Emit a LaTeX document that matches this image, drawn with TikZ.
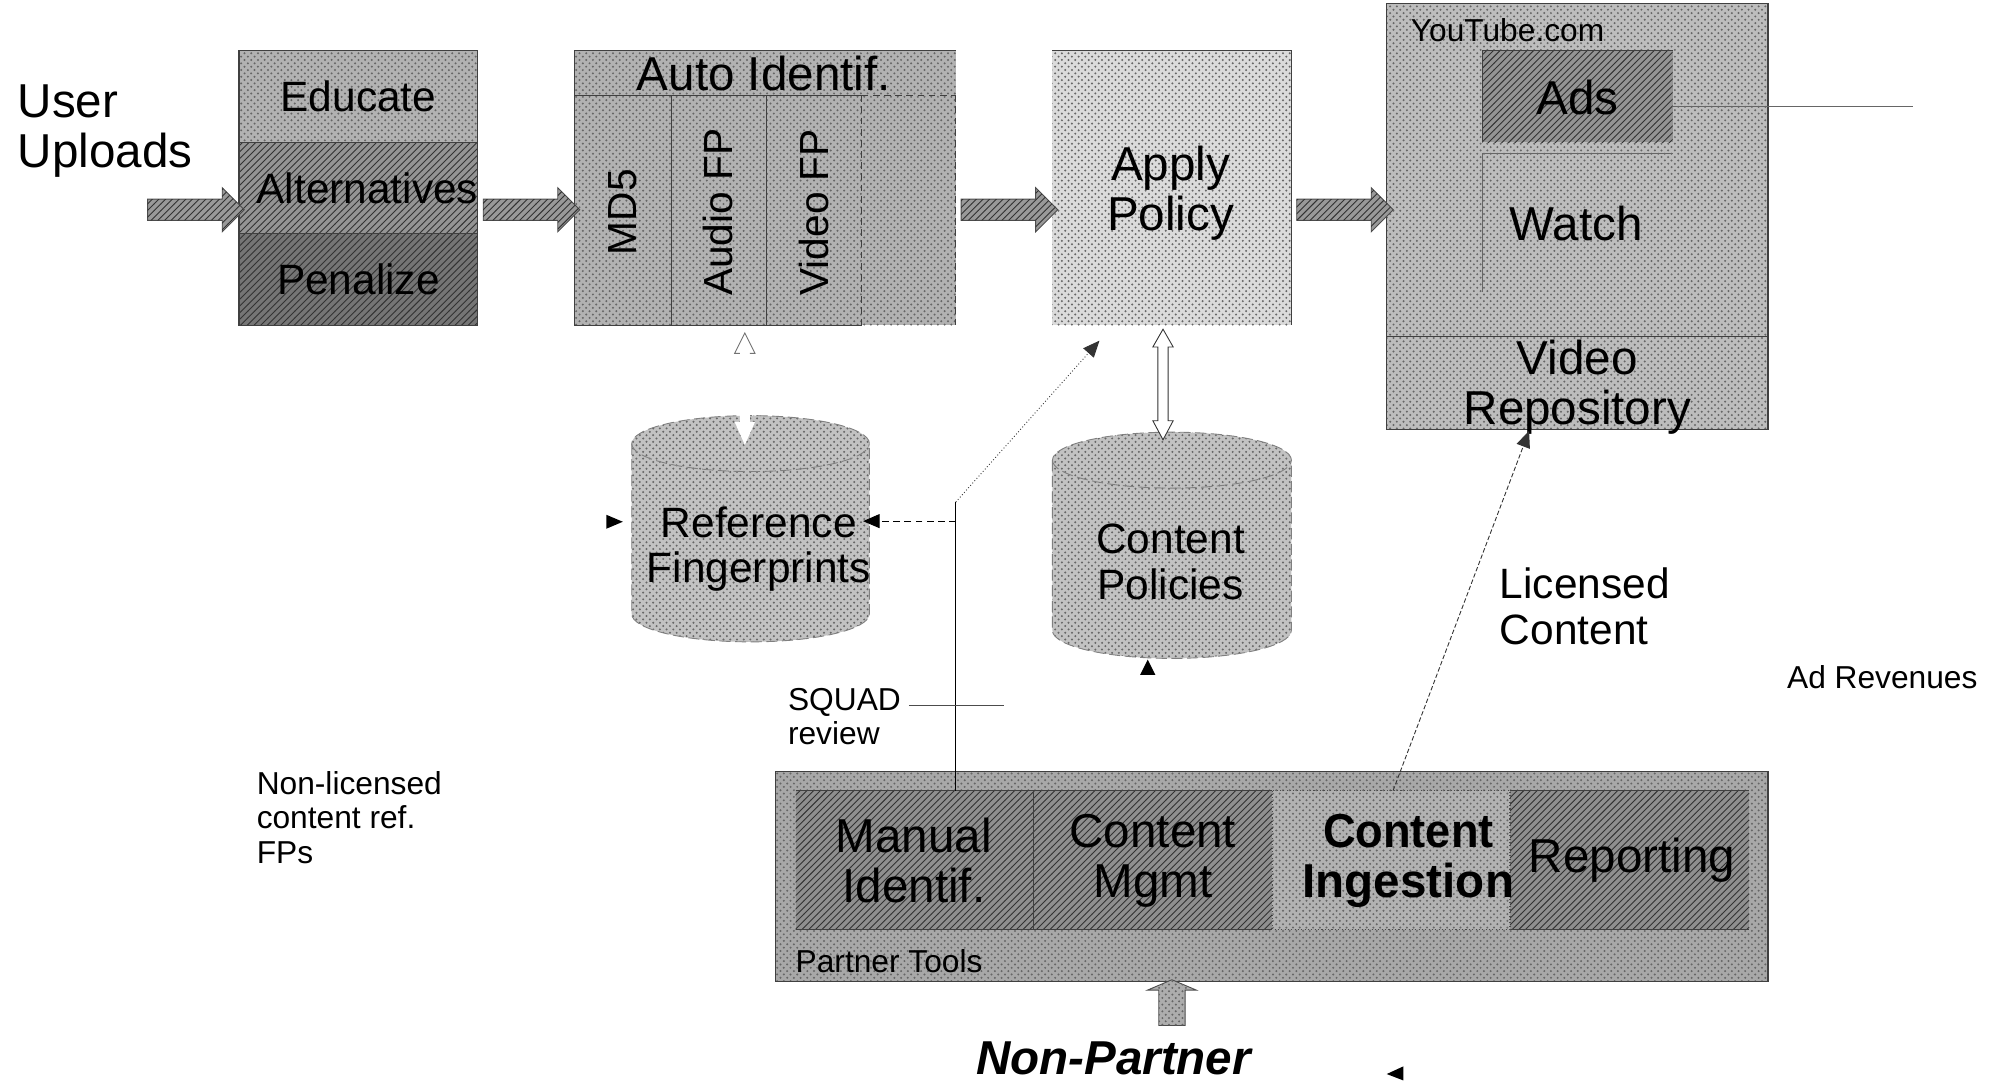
\documentclass[tikz,border=0pt]{standalone}
\usepackage{fontspec}
\setmainfont{Liberation Sans}
\usetikzlibrary{shapes.arrows,patterns,arrows.meta}
\begin{document}
\begin{tikzpicture}[x=0.02cm,y=-0.02cm,
  every node/.style={inner sep=0pt, outer sep=0pt},
  fbig/.style={font=\fontsize{21.3}{22.4}\selectfont},
  fmid/.style={font=\fontsize{19}{20.4}\selectfont},
  fsmall/.style={font=\fontsize{14.2}{15.4}\selectfont},
  fvert/.style={font=\fontsize{18.2}{19}\selectfont, rotate=90},
  area/.style={rectangle, draw=none},
  dotfill/.style={fill=#1, postaction={pattern=crosshatch dots, pattern color=black!60}},
  hatchfill/.style={fill=#1, postaction={pattern=north east lines, pattern color=black!80}},
  edge/.style={draw=black!75, line width=0.5pt},
  fatarrow/.style={single arrow, draw=black!70, line width=0.4pt, hatchfill=black!40,
     minimum height=1.52cm, single arrow head extend=0.18cm, single arrow tip angle=90},
  conn/.style={draw=black, line width=0.4pt},
  cyl/.style={draw=black!50, dash pattern=on 5pt off 2pt, line width=0.4pt},
  hollow/.style={fill=white, draw=black!80, line width=0.4pt},
  tipk/.style={-{Triangle[length=0.26cm,width=0.22cm]}},
]
\useasboundingbox (0,0) rectangle (1568,851);

% ---------- Educate stack ----------
\node[area, dotfill=black!30, minimum width=3.76cm, minimum height=1.44cm, fmid] (edu) at (282,76) {Educate};
\node[area, hatchfill=black!42, minimum width=3.76cm, minimum height=1.44cm] (alt) at (282,148) {};
\node[area, hatchfill=black!54, minimum width=3.76cm, minimum height=1.44cm] (pen) at (282,220) {};
\draw[edge] (edu.north west) rectangle (pen.south east);
\draw[edge] (edu.south west) -- (edu.south east);
\draw[edge] (alt.south west) -- (alt.south east);
\node[fmid] (altt) at (289,148) {Alternatives};
\node[fmid] (pent) at (282,220) {Penalize};

% ---------- Auto Identif ----------
\node[area, dotfill=black!30, minimum width=6cm, minimum height=4.32cm] (auto) at (602,148) {};
\draw[edge] (752,40) -- (452,40) -- (452,256) -- (678,256);
\draw[edge] (452,75) -- (678,75);
\draw[edge] (528,75) -- (528,256);
\draw[edge] (603,75) -- (603,256);
\draw[edge, dash pattern=on 3pt off 2pt] (678,75) -- (752,75) (678,75) -- (678,256) (752,75) -- (752,256);
\node[fbig] (autot) at (601,58) {Auto Identif.};
\node[fvert] (md5) at (490,167) {MD5};
\node[fvert] (afp) at (565,167) {Audio FP};
\node[fvert] (vfp) at (640,167) {Video FP};

% ---------- Apply Policy ----------
\node[area, dotfill=black!14, minimum width=3.76cm, minimum height=4.32cm] (apply) at (922,148) {};
\draw[edge] (apply.north west) -- (apply.north east) -- (apply.south east);
\node[fbig, align=center] (applyt) at (921,152) {Apply\\Policy};

% ---------- YouTube ----------
\node[area, dotfill=black!26, minimum width=6cm, minimum height=6.7cm] (yt) at (1241,170.5) {};
\draw[edge] (yt.north west) rectangle (yt.south east);
\draw[edge] (1091,265) -- (1391,265);
\node[area, hatchfill=black!42, minimum width=3cm, minimum height=1.44cm] (ads) at (1241,76) {};
\draw[edge] (ads.south west) -- (ads.north west) -- (ads.north east);
\draw[black!60, line width=0.5pt] (1166,230) -- (1166,121) -- (1316,121);
\node[fbig] (adst) at (1241,77) {Ads};
\node[fbig] (watch) at (1240,176) {Watch};
\node[fbig, align=center] (repo) at (1241,305) {Video\\Repository};
\node[fsmall, anchor=west] (ytt) at (1110,24) {YouTube.com};
\coordinate (adsline) at (1505,84);
\draw[black!60, line width=0.5pt] (1316,84) -- (adsline);

% ---------- fat arrows ----------
\node[fatarrow] (a0) at (150,165) {\rule{0pt}{0.32cm}};
\node[fatarrow] (a1) at (414,165) {\rule{0pt}{0.32cm}};
\node[fatarrow] (a2) at (790,165) {\rule{0pt}{0.32cm}};
\node[fatarrow] (a3) at (1054,165) {\rule{0pt}{0.32cm}};

% ---------- Reference Fingerprints cylinder ----------
\path[dotfill=black!24] (497,349) -- (497,483) arc[start angle=180, end angle=360, x radius=1.87cm, y radius=0.44cm] -- (684,349) arc[start angle=0, end angle=180, x radius=1.87cm, y radius=0.44cm] -- cycle;
\draw[cyl] (497,349) -- (497,483) arc[start angle=180, end angle=360, x radius=1.87cm, y radius=0.44cm] -- (684,349) arc[start angle=0, end angle=180, x radius=1.87cm, y radius=0.44cm];
\draw[cyl] (497,349) arc[start angle=180, end angle=360, x radius=1.87cm, y radius=0.44cm];
% hollow link Auto -> Reference FP
\fill[white] (586,262) -- (594,278) -- (590,278) -- (590,332) -- (594,332) -- (586,350) -- (578,332) -- (582,332) -- (582,278) -- (578,278) -- cycle;
\draw[black!55, line width=0.4pt] (582,278) -- (578,278) -- (586,262) -- (594,278) -- (590,278);
\node[fmid, align=center] (reffp) at (597,432) {Reference\\Fingerprints};

% ---------- Content Policies cylinder ----------
\path[dotfill=black!24] (828,362) -- (828,496) arc[start angle=180, end angle=360, x radius=1.88cm, y radius=0.44cm] -- (1016,362) arc[start angle=0, end angle=180, x radius=1.88cm, y radius=0.44cm] -- cycle;
\draw[cyl] (828,362) -- (828,496) arc[start angle=180, end angle=360, x radius=1.88cm, y radius=0.44cm] -- (1016,362) arc[start angle=0, end angle=180, x radius=1.88cm, y radius=0.44cm];
\draw[cyl] (828,362) arc[start angle=180, end angle=360, x radius=1.88cm, y radius=0.44cm];
\path[hollow] (915,259) -- (923,273) -- (919,273) -- (919,331) -- (923,331) -- (915,346) -- (907,331) -- (911,331) -- (911,273) -- (907,273) -- cycle;
\node[fmid, align=center] (cpol) at (921,442) {Content\\Policies};

% ---------- Partner Tools ----------
\node[area, dotfill=black!34, minimum width=15.62cm, minimum height=3.3cm] (pt) at (1000.5,689.5) {};
\draw[edge] (pt.north west) rectangle (pt.south east);
\node[area, hatchfill=black!44, minimum width=3.74cm, minimum height=2.18cm] (man) at (719.5,676.5) {};
\node[area, hatchfill=black!44, minimum width=3.76cm, minimum height=2.18cm] (mgmt) at (907,676.5) {};
\node[area, dotfill=black!30, minimum width=3.74cm, minimum height=2.18cm] (ing) at (1094.5,676.5) {};
\node[area, hatchfill=black!44, minimum width=3.76cm, minimum height=2.18cm] (rep) at (1282,676.5) {};
\draw[edge] (626,622) -- (1001,622) (626,731) -- (1001,731) (1188,622) -- (1376,622) (1188,731) -- (1376,731) (813,622) -- (813,731);
\draw[black!70, densely dotted, line width=0.5pt] (ing.north west) rectangle (ing.south east);
\node[fbig, align=center] (mant) at (719,677) {Manual\\Identif.};
\node[fbig, align=center] (mgmtt) at (907,677) {Content\\Mgmt};
\node[align=center, font=\fontsize{21.3}{22.4}\selectfont\bfseries] (ingt) at (1108,677) {\scalebox{0.95}[1]{Content}\\Ingestion};
\node[fbig] (rept) at (1284,677) {Reporting};
\node[fsmall, anchor=west] (ptt) at (626,756) {Partner Tools};

% up arrow
\node[single arrow, rotate=90, draw=black!70, line width=0.4pt, dotfill=black!32, minimum height=0.72cm, single arrow head extend=0.18cm, single arrow tip angle=134] (upa) at (922,791) {\rule{0pt}{0.4cm}};
\node[font=\fontsize{21.3}{22.4}\selectfont\bfseries\itshape] (np) at (876,833) {Non-Partner};

% ---------- connectors ----------
\coordinate (vtop) at (752,395);
\coordinate (vbot) at (752,622);
\coordinate (apin) at (865,268);
\coordinate (dstart) at (752,410);
\coordinate (dend) at (679,410);
\coordinate (lstart) at (1096,622);
\coordinate (lend) at (1203,339);
\draw[conn] (vbot) -- (vtop);
\draw[conn, black!80, densely dotted, tipk] (vtop) -- (apin);
\draw[conn, dash pattern=on 3pt off 2pt, tipk] (dstart) -- (dend);
\draw[conn, black!80, dash pattern=on 2pt off 1pt, tipk] (lstart) -- (lend);
\draw[black!70, line width=0.5pt] (715,555) -- (790,555);

% small black markers
\fill[black] (477,405) -- (490,410.5) -- (477,416) -- cycle;
\fill[black] (897,531) -- (903,519) -- (909,531) -- cycle;
\fill[black] (1104,839) -- (1091,845) -- (1104,850) -- cycle;

% ---------- free labels ----------
\node[fbig, anchor=west, align=left] (uu) at (14,103) {User\\Uploads};
\node[fsmall, anchor=west, align=left] (sq) at (620,564) {SQUAD\\review};
\node[fmid, anchor=west, align=left] (lic) at (1180,477) {Licensed\\Content};
\node[fsmall, anchor=west] (adr) at (1406,533) {Ad Revenues};
\node[fsmall, anchor=west, align=left] (nl) at (202,643) {Non-licensed\\content ref.\\FPs};
\end{tikzpicture}
\end{document}
